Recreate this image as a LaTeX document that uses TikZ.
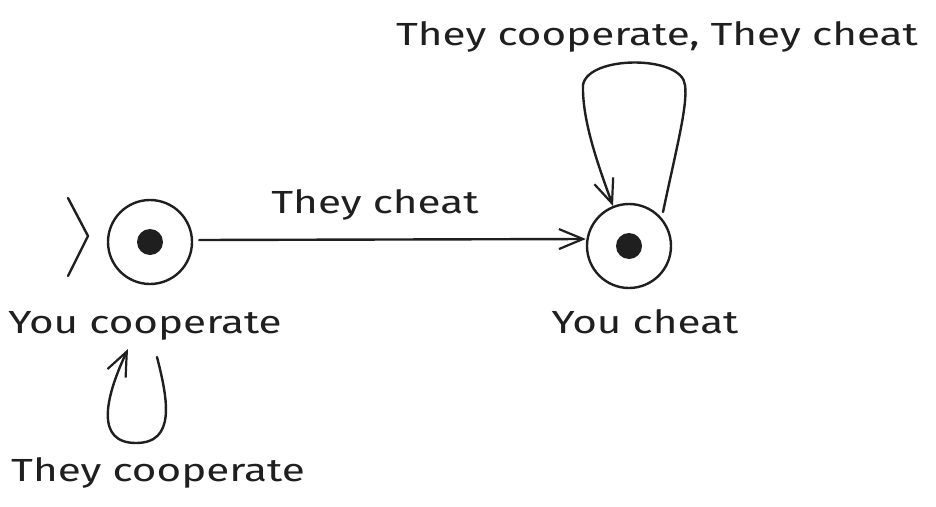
\documentclass[tikz,border=0pt]{standalone}
\usepackage{fontspec}
\setmainfont[FakeStretch=1.32]{Fira Sans}
\usetikzlibrary{arrows.meta}

\tikzset{
  ink/.style={draw=black!88, line width=2.4pt, line cap=round, line join=round},
  tip/.style={-{Straight Barb[length=24pt,width=20pt,line width=2.2pt]}},
  state/.style={ink, circle, minimum size=84pt, inner sep=0pt},
  dot/.style={circle, fill=black!88, minimum size=26pt, inner sep=0pt},
  lbl/.style={font=\fontsize{32}{36}\selectfont, text=black!88, inner sep=0pt, anchor=base}
}

\begin{document}
\begin{tikzpicture}[x=1pt, y=-1pt]
  \useasboundingbox (0,0) rectangle (936,506);

  % states
  \node[state] (coop) at (150,242) {};
  \node[dot] at (coop.center) {};
  \node[state] (cheat) at (629,246) {};
  \node[dot] at (cheat.center) {};

  % state names
  \node[lbl] (lcoop) at (145,333) {You cooperate};
  \node[lbl] (lcheat) at (645,333) {You cheat};

  % initial-state marker
  \coordinate (i1) at (68,198);
  \coordinate (i2) at (88,236);
  \coordinate (i3) at (68,276);
  \draw[ink] (i1) -- (i2) -- (i3);

  % transition between the states
  \draw[ink, tip] ([xshift=6pt, yshift=2pt]coop.east) -- ([yshift=7pt]cheat.west);
  \node[lbl] (tcheat) at (375,213) {They cheat};

  % self-loop under "You cooperate"
  \coordinate (ls) at (157,357);
  \coordinate (le) at (128,349);
  \draw[ink, tip] (ls) .. controls (168,400) and (176,443) .. (136,443)
                       .. controls (96,443) and (104,400) .. (le);
  \node[lbl] (tcoop) at (158,481) {They cooperate};

  % self-loop above "You cheat"
  \coordinate (rs) at (663,212);
  \coordinate (re) at (613,206);
  \draw[ink, tip] (rs) .. controls (676,150) and (688,105) .. (685,85)
                       .. controls (682,55) and (588,55) .. (583,85)
                       .. controls (582,120) and (598,165) .. (re);
  \node[lbl] (tboth) at (657,45) {They cooperate, They cheat};
\end{tikzpicture}
\end{document}
